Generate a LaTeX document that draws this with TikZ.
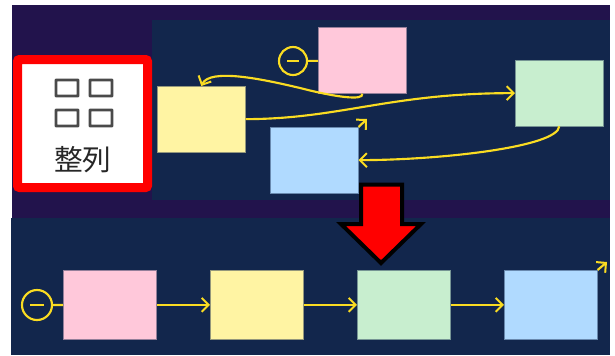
\documentclass[tikz,border=0pt]{standalone}
\usepackage{fontspec}
\newfontfamily\cjkfont{Noto Sans CJK JP}
\usetikzlibrary{arrows.meta,calc}
\definecolor{purplebg}{HTML}{22134C}
\definecolor{navybg}{HTML}{12264C}
\definecolor{cpink}{HTML}{FFC8DA}
\definecolor{cyellow}{HTML}{FFF4A3}
\definecolor{cgreen}{HTML}{C8EECF}
\definecolor{cblue}{HTML}{B0DAFF}
\definecolor{lineyellow}{HTML}{FADC22}
\definecolor{icongray}{HTML}{4A4A4A}
\tikzset{
  x=0.75pt,y=-0.75pt,
  sticky/.style={draw=#1!55!navybg,line width=0.7pt,inner sep=0pt,outer sep=0pt,anchor=north west},
  smallnote/.style={minimum width=66.4pt,minimum height=49.7pt},
  bignote/.style={minimum width=70.2pt,minimum height=52.3pt},
  conn/.style={draw=lineyellow,line width=1.6pt,-{Straight Barb[length=5.2pt,width=10.5pt,line width=1.5pt]}},
  plain/.style={draw=lineyellow,line width=1.6pt},
  startc/.style={circle,draw=lineyellow,line width=1.6pt,inner sep=0pt,outer sep=0pt,minimum size=#1},
  iconbox/.style={draw=icongray,line width=2.2pt,rounded corners=0.4pt,inner sep=0pt,minimum width=16.5pt,minimum height=12pt},
}
\begin{document}
\begin{tikzpicture}
\useasboundingbox (0,0) rectangle (615,355);
\fill[white] (0,0) rectangle (615,355);
\fill[purplebg] (12,5) rectangle (610,218);
\fill[navybg] (152,20) rectangle (610,200);
\fill[navybg] (11,218) rectangle (610,355);
% red framed panel
\node[draw=red,fill=white,line width=6.75pt,rounded corners=1.5pt,inner sep=0pt,outer sep=0pt,anchor=north west,minimum width=97.5pt,minimum height=96pt] (panel) at (17.5,59.5) {};
\node[iconbox] (i1) at (67,88) {};
\node[iconbox] (i2) at (101,88) {};
\node[iconbox] (i3) at (67,118) {};
\node[iconbox] (i4) at (101,118) {};
\node[inner sep=0pt,text=black!85] (label) at (83,160) {\cjkfont\fontsize{21.5}{21.5}\selectfont 整列};
% top notes
\node[sticky=cyellow,fill=cyellow,smallnote] (ty) at (157,86) {};
\node[sticky=cpink,fill=cpink,smallnote] (tp) at (318,27.5) {};
\node[sticky=cgreen,fill=cgreen,smallnote] (tg) at (515,60) {};
\node[sticky=cblue,fill=cblue,smallnote] (tb) at (270,127) {};
\node[startc=21pt] (ts) at (293,61) {};
\coordinate (tsa) at ($(ts)+(-6,0)$);
\coordinate (tsb) at ($(ts)+(6,0)$);
\draw[plain] (tsa) -- (tsb);
\draw[plain] (ts) -- (tp);
\draw[conn] (tp.south) .. controls (364,101) and (335,97) .. (300,88) .. controls (262,79) and (210,68) .. (ty.north);
\draw[conn] (ty.east) .. controls (340,119) and (390,93) .. (tg.west);
\draw[conn] (tg.south) .. controls (558,147) and (440,160) .. (tb.east);
\coordinate (tbend) at (367,119);
\draw[conn] (tb.north east) -- (tbend);
% bottom notes
\node[sticky=cpink,fill=cpink,bignote] (bp) at (63,270) {};
\node[sticky=cyellow,fill=cyellow,bignote] (by) at (210,270) {};
\node[sticky=cgreen,fill=cgreen,bignote] (bg) at (357,270) {};
\node[sticky=cblue,fill=cblue,bignote] (bb) at (504,270) {};
\node[startc=22.5pt] (bs) at (37,305) {};
\coordinate (bsa) at ($(bs)+(-7,0)$);
\coordinate (bsb) at ($(bs)+(7,0)$);
\draw[plain] (bsa) -- (bsb);
\draw[plain] (bs) -- (bp);
\draw[conn] (bp) -- (by);
\draw[conn] (by) -- (bg);
\draw[conn] (bg) -- (bb);
\coordinate (bbend) at (607,262);
\draw[conn] (bb.north east) -- (bbend);
% big arrow
\draw[draw=black,fill=red,line width=3pt,line join=miter,miter limit=10]
  (361,184.5) -- (402,184.5) -- (402,224) -- (421,224) -- (381,263) -- (341,224) -- (361,224) -- cycle;
\end{tikzpicture}
\end{document}
